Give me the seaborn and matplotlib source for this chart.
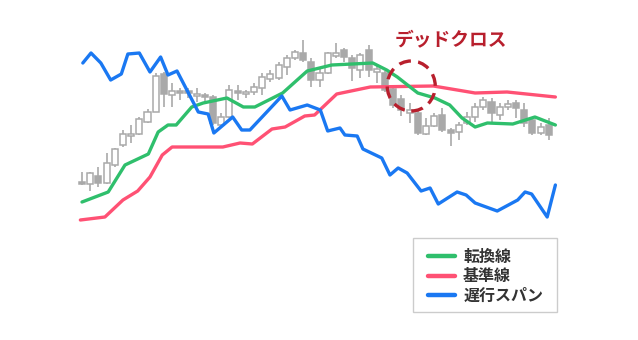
import numpy as np
import pandas as pd
import matplotlib
matplotlib.use("Agg")
import matplotlib.pyplot as plt
from matplotlib.patches import Ellipse, Rectangle
from matplotlib.lines import Line2D
import seaborn as sns

# ---------------- data ----------------
opens = [68, 66, 74, 67, 85, 105, 114, 116, 128, 138, 176, 155, 159, 159, 154, 155, 153, 125, 133, 159,
         156, 158, 162, 171, 172, 183, 192, 197, 188, 170, 177, 194, 200, 192, 180, 200, 178, 177, 161, 151,
         137, 137, 116, 124, 135, 120, 118, 127, 133, 143, 148, 135, 143, 147, 140, 130, 117, 125]
closes = [66, 77, 67, 87, 101, 116, 116, 131, 138, 174, 156, 159, 157, 157, 156, 153, 127, 133, 160, 157,
          158, 163, 173, 176, 185, 192, 198, 190, 170, 177, 197, 197, 193, 182, 195, 180, 181, 160, 145, 140,
          140, 117, 124, 134, 120, 117, 125, 133, 143, 150, 137, 143, 146, 142, 127, 117, 123, 115]
highs = [78, 78, 83, 97, 102, 120, 125, 133, 141, 177, 178, 167, 162, 162, 162, 157, 155, 137, 165, 165,
         160, 167, 177, 180, 188, 195, 200, 210, 192, 182, 198, 207, 202, 195, 197, 205, 185, 179, 165, 155,
         147, 139, 132, 137, 142, 122, 128, 138, 147, 153, 152, 147, 150, 150, 147, 132, 127, 132]
lows = [65, 59, 63, 66, 83, 103, 107, 115, 127, 138, 143, 143, 150, 152, 148, 148, 125, 123, 132, 150,
        152, 155, 155, 168, 170, 175, 190, 188, 163, 163, 176, 192, 188, 169, 172, 173, 167, 158, 142, 134,
        127, 115, 115, 123, 118, 104, 110, 125, 128, 140, 128, 130, 140, 132, 123, 115, 115, 110]

tenkan_x = [0, 3.2, 5.25, 8.1, 9.3, 10.5, 11.5, 13.4, 14.8, 17.7, 19.7, 21.1, 24.5, 27.5, 30.5, 35.5,
            37.2, 38.5, 41, 43.1, 44.9, 46.4, 48, 49.5, 52.6, 55.3, 57.8]
tenkan_y = [48, 58, 85, 96, 118, 125, 125, 143, 147, 152, 143, 143, 157, 179, 185, 187,
            180, 173, 157, 152, 145, 132, 123, 127, 126, 133, 125]

kijun_x = [-0.2, 2.8, 5, 6.8, 8.3, 9.8, 11, 17.2, 19.3, 20.8, 23.2, 24.8, 27.2, 28.4, 31.1, 35.2,
           42.9, 48, 51.9, 57.8]
kijun_y = [30, 33, 50, 59, 73, 95, 103, 103, 107, 106, 121, 123, 134, 135, 156, 163,
           164, 157, 158, 153]

chikou_x = [0.1, 1.1, 2.3, 3.5, 4.8, 5.6, 7.0, 8.3, 9.6, 10.5, 11.6, 14.2, 15.4, 16.1, 18.4, 19.5, 20.5,
            24.4, 25.4, 27.5, 29.1, 30.0, 31.5, 32.1, 33.6, 34.3, 36.6, 37.6, 38.6, 39.7, 41.4, 42.5,
            43.5, 45.8, 46.9, 48.0, 50.7, 53.2, 54.1, 54.9, 56.8, 57.8]
chikou_y = [187, 197, 187, 170, 176, 196, 197, 178, 193, 175, 179, 138, 136, 117, 133, 120, 120,
            154, 140, 145, 140, 119, 122, 115, 114, 101, 92, 75, 82, 77, 59, 62,
            46, 58, 55, 47, 39, 50, 58, 56, 33, 65]

labels = ["転換線", "基準線", "遅行スパン"]
annotation = "デッドクロス"
cross_x, cross_y = 40.2, 164

# ---------------- style ----------------
sns.set_theme(style="white")
plt.rcParams["font.family"] = ["Noto Sans CJK JP", "DejaVu Sans"]

GREEN = "#2fbf6c"
RED = "#ff5174"
BLUE = "#1a78f2"
DARKRED = "#b81f2d"
CANDLE = "#a9a9a9"

fig = plt.figure(figsize=(6.38, 3.40), dpi=100)
ax = fig.add_axes([0, 0, 1, 1])

# candles
n = len(opens)
bw = 0.74
for i in range(n):
    o, c, h, l = opens[i], closes[i], highs[i], lows[i]
    ax.vlines(i, l, h, color=CANDLE, lw=1.2, zorder=2)
    lo, hi = min(o, c), max(o, c)
    hgt = max(hi - lo, 1.6)
    fc = "white" if c >= o else CANDLE
    ax.add_patch(Rectangle((i - bw / 2, lo), bw, hgt, facecolor=fc, edgecolor=CANDLE, lw=1.1, zorder=3))

# lines via seaborn
df_t = pd.DataFrame({"x": tenkan_x, "y": tenkan_y})
df_k = pd.DataFrame({"x": kijun_x, "y": kijun_y})
df_c = pd.DataFrame({"x": chikou_x, "y": chikou_y})
sns.lineplot(data=df_k, x="x", y="y", ax=ax, color=RED, lw=2.4, sort=False, zorder=4)
sns.lineplot(data=df_t, x="x", y="y", ax=ax, color=GREEN, lw=2.4, sort=False, zorder=5)
sns.lineplot(data=df_c, x="x", y="y", ax=ax, color=BLUE, lw=2.4, sort=False, zorder=5)
ax.set_xlim(-82 / 8.19, (638 - 82) / 8.19)
ax.set_ylim(-90, 250)
ax.axis("off")

# dead cross marker
ell = Ellipse((cross_x, cross_y), width=48 / 8.19, height=50, fill=False, edgecolor=DARKRED,
              lw=2.4, linestyle=(0, (3.6, 2.2)), zorder=6)
ax.add_patch(ell)
ax.text(45.0, 209, annotation, ha="center", va="center", fontsize=13.5, fontweight="bold",
        color=DARKRED, zorder=7)

# legend (frame drawn separately)
fig.patches.append(Rectangle((413 / 638, 1 - 312 / 340), 144 / 638, 74 / 340, transform=fig.transFigure,
                             facecolor="white", edgecolor="#cccccc", lw=1.0, zorder=8))
handles = [Line2D([0], [0], color=GREEN, lw=3.2),
           Line2D([0], [0], color=RED, lw=3.2),
           Line2D([0], [0], color=BLUE, lw=3.2)]
leg = fig.legend(handles, labels, loc="upper left", bbox_to_anchor=(428 / 638, 1 - 248.5 / 340),
                 frameon=False, fontsize=11.5, handlelength=1.7, handletextpad=0.5,
                 labelspacing=0.23, borderpad=0, borderaxespad=0)
leg.set_zorder(9)
for t in leg.get_texts():
    t.set_color("#333333")
    t.set_fontweight("bold")

fig.savefig("out.png", dpi=100)
